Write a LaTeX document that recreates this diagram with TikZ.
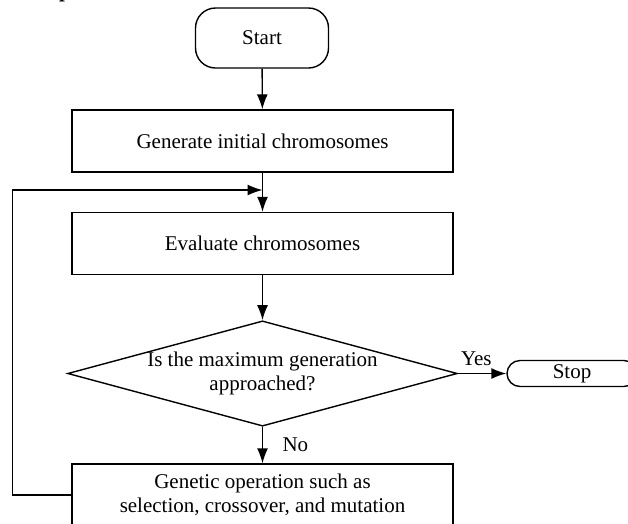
\documentclass[tikz,border=0pt]{standalone}
\usepackage{fontspec}
\setmainfont{Liberation Serif}
\usetikzlibrary{positioning,shapes.geometric,arrows.meta}
\tikzset{
    >={Latex[length=15pt,width=11pt]},
    terminal/.style={
        rectangle,
        rounded corners=13pt,
        draw, line width=1.4pt,
        inner ysep=2pt,
        text centered
    },
    procbox/.style={
        rectangle,
        draw, line width=1.4pt,
        minimum width=381pt,
        minimum height=62pt,
        align=center
    },
    decbox/.style={
        diamond,
        aspect=3.7,
        draw, line width=1.4pt,
        inner sep=0pt,
        minimum width=382pt,
        minimum height=103pt,
        align=center
    },
    line/.style={draw, line width=1.4pt, ->},
    font={\fontsize{21pt}{24pt}\selectfont},
}
\begin{document}
\begin{tikzpicture}[x=1pt, y=-1pt]
\useasboundingbox (0,0) rectangle (628,523);
\clip (0,0) rectangle (628,523);
\node(Frag) at (59,-3)[anchor=base west, inner sep=0pt, font=\bfseries\fontsize{21pt}{24pt}\selectfont]{p};
\node(Start) at (262,38)[terminal, rounded corners=20pt, minimum width=133pt, minimum height=60pt]{Start};
\node(Gen) at (262.5,141)[procbox]{Generate initial chromosomes};
\node(Eval) at (262.5,243.5)[procbox]{Evaluate chromosomes};
\node(Dec) at (262.5,373.5)[decbox]{Is the maximum generation\\approached?};
\node(Gop) at (262.5,495)[procbox]{Genetic operation such as\\selection, crossover, and mutation};
\node(Stop) at (572,373.5)[terminal, minimum width=130pt, minimum height=26pt]{Stop};
\coordinate(Loop) at (262.5,190);
\draw[line] (Start) -- (Gen);
\draw[line] (Gen) -- (Eval);
\draw[line] (Eval) -- (Dec);
\draw[line] (Dec) -- node[right=16pt]{No} (Gop);
\draw[line] (Dec.east) -- node[pos=0.38, above=4pt]{Yes} (Stop.west);
\draw[line] (Gop.west) -- ++(-59,0) |- (Loop);
\end{tikzpicture}
\end{document}
